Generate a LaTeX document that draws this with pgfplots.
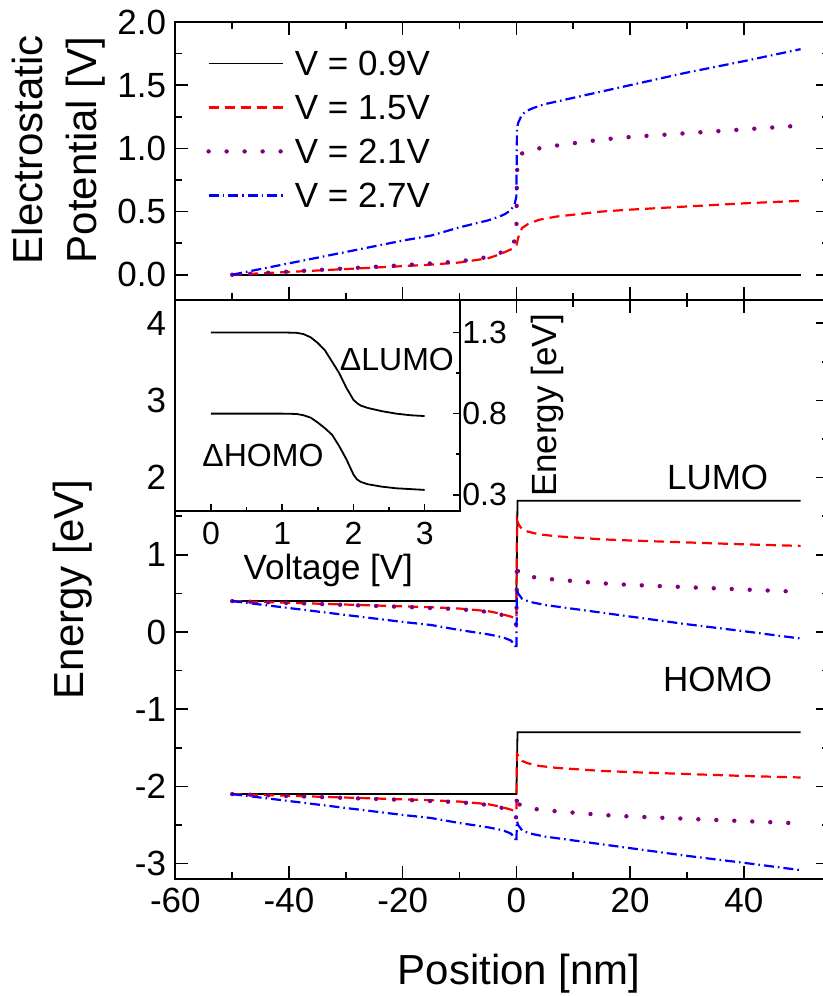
\documentclass[border=0pt]{standalone}
\usepackage{fontspec}
\setmainfont{Liberation Sans}
\usepackage{pgfplots}
\pgfplotsset{compat=1.18}
\definecolor{myred}{RGB}{255,0,0}
\definecolor{mypurple}{RGB}{128,0,128}
\definecolor{myblue}{RGB}{0,0,255}
\pgfplotsset{
  mainax/.style={scale only axis, width=326.85pt, xmin=-60, xmax=55,
    xtick={-60,-40,...,40}, minor x tick num=1,
    major tick length=6.5pt, minor tick length=3.5pt,
    axis line style={line width=0.9pt},
    every tick/.style={black, line width=0.8pt},
    tick label style={font=\fontsize{17.5}{20}\selectfont},
    /pgf/number format/assume math mode=true,
    yticklabel style={xshift=-1.1pt}, xticklabel style={yshift=-1.2pt}},
  s1/.style={black, line width=0.9pt},
  s2/.style={myred, line width=1.1pt, dash pattern=on 5pt off 3pt},
  s3/.style={mypurple, line width=2.2pt, line cap=round, dash pattern=on 0pt off 9pt},
  s4/.style={myblue, line width=1.1pt, dash pattern=on 5pt off 2pt on 0.8pt off 2pt},
}
\begin{document}
\begin{tikzpicture}
% ---------------- top panel ----------------
\begin{axis}[mainax, name=top, height=139pt, ymin=-0.2, ymax=2.0,
  ytick={0,0.5,...,2.0}, minor y tick num=1, xticklabels={},
  yticklabel style={/pgf/number format/fixed, /pgf/number format/fixed zerofill, /pgf/number format/precision=1},
  ylabel={Electrostatic\\Potential [V]},
  every axis y label/.style={at={(axis description cs:-0.179,0.54)}, rotate=90, anchor=center, align=center, font=\fontsize{21}{27}\selectfont},
  legend image code/.code={\draw[#1] (0pt,0pt) -- (37pt,0pt);},
  legend cell align=left,
  legend style={at={(0.047,0.8975)}, anchor=north west, draw=none, fill=none, inner sep=0pt,
    font=\fontsize{17.5}{21}\selectfont, row sep=9.5pt,
    nodes={inner sep=0pt, text height=12.5pt, text depth=0pt},
    /tikz/every odd column/.append style={column sep=5pt}},
]
\addplot[s1] coordinates {(-50,0) (50,0)};
\addlegendentry{V = 0.9V}
\addplot[s2] coordinates {(-50,0) (-40,0.022) (-30,0.045) (-20,0.068) (-15,0.08) (-10,0.097) (-5,0.13) (-3,0.16) (-2,0.18) (-1,0.2) (-0.3,0.22) (0,0.23) (0.1,0.25) (0.3,0.29) (0.6,0.33) (1,0.37) (2,0.4) (4,0.435) (7,0.46) (10,0.475) (15,0.5) (20,0.515) (30,0.54) (40,0.565) (50,0.585)};
\addlegendentry{V = 1.5V}
\addplot[s3] coordinates {(-50,0) (-40,0.025) (-30,0.05) (-20,0.075) (-15,0.09) (-10,0.105) (-5,0.14) (-3,0.17) (-2,0.19) (-1,0.22) (-0.3,0.27) (0,0.31) (0.1,0.8) (0.3,0.92) (1,0.96) (2,0.98) (3,0.99) (5,1.01) (10,1.04) (15,1.07) (20,1.09) (30,1.12) (40,1.15) (50,1.18)};
\addlegendentry{V = 2.1V}
\addplot[s4] coordinates {(-50,0) (-40,0.09) (-30,0.18) (-20,0.27) (-15,0.31) (-10,0.375) (-5,0.43) (-3,0.46) (-2,0.48) (-1,0.51) (-0.3,0.56) (0,0.62) (0.1,1.15) (0.3,1.2) (1,1.27) (2,1.3) (3,1.32) (5,1.35) (10,1.4) (15,1.45) (20,1.5) (30,1.6) (40,1.69) (50,1.785)};
\addlegendentry{V = 2.7V}
\end{axis}
% ---------------- bottom panel ----------------
\begin{axis}[mainax, name=bot, at={(top.south west)}, anchor=north west,
  height=289.5pt, ymin=-3.2, ymax=4.3, ytick={-3,...,4}, minor y tick num=1,
  xlabel={Position [nm]}, ylabel={Energy [eV]},
  every axis x label/.style={at={(axis description cs:0.526,-0.163)}, anchor=center, font=\fontsize{21}{26}\selectfont},
  every axis y label/.style={at={(axis description cs:-0.157,0.5)}, rotate=90, anchor=center, font=\fontsize{21}{26}\selectfont},
]
% LUMO
\addplot[s1] coordinates {(-50,0.4) (0,0.4) (0.2,1.7) (50,1.7)};
\addplot[s2] coordinates {(-50,0.4) (-40,0.378) (-30,0.355) (-20,0.332) (-15,0.32) (-10,0.303) (-5,0.27) (-3,0.24) (-2,0.22) (-1,0.2) (-0.3,0.18) (0,0.17) (0.1,1.45) (0.3,1.41) (0.6,1.37) (1,1.33) (2,1.3) (4,1.265) (7,1.24) (10,1.225) (15,1.2) (20,1.185) (30,1.16) (40,1.135) (50,1.115)};
\addplot[s3] coordinates {(-50,0.4) (-40,0.375) (-30,0.35) (-20,0.325) (-15,0.31) (-10,0.295) (-5,0.26) (-3,0.23) (-2,0.21) (-1,0.18) (-0.3,0.13) (0,0.09) (0.1,0.9) (0.3,0.78) (1,0.74) (2,0.72) (3,0.71) (5,0.69) (10,0.66) (15,0.63) (20,0.61) (30,0.58) (40,0.55) (50,0.52)};
\addplot[s4] coordinates {(-50,0.4) (-40,0.31) (-30,0.22) (-20,0.13) (-15,0.09) (-10,0.025) (-5,-0.03) (-3,-0.06) (-2,-0.08) (-1,-0.11) (-0.3,-0.16) (0,-0.22) (0.1,0.55) (0.3,0.5) (1,0.43) (2,0.4) (3,0.38) (5,0.35) (10,0.3) (15,0.25) (20,0.2) (30,0.1) (40,0.01) (50,-0.085)};
% HOMO
\addplot[s1] coordinates {(-50,-2.1) (0,-2.1) (0.2,-1.3) (50,-1.3)};
\addplot[s2] coordinates {(-50,-2.1) (-40,-2.122) (-30,-2.145) (-20,-2.168) (-15,-2.18) (-10,-2.197) (-5,-2.23) (-3,-2.26) (-2,-2.28) (-1,-2.3) (-0.3,-2.32) (0,-2.33) (0.1,-1.58) (0.3,-1.6) (0.6,-1.63) (1,-1.67) (2,-1.7) (4,-1.735) (7,-1.76) (10,-1.775) (15,-1.8) (20,-1.815) (30,-1.84) (40,-1.865) (50,-1.885)};
\addplot[s3] coordinates {(-50,-2.1) (-40,-2.125) (-30,-2.15) (-20,-2.175) (-15,-2.19) (-10,-2.205) (-5,-2.24) (-3,-2.27) (-2,-2.29) (-1,-2.32) (-0.3,-2.37) (0,-2.41) (0.1,-2.1) (0.3,-2.22) (1,-2.26) (2,-2.28) (3,-2.29) (5,-2.31) (10,-2.34) (15,-2.37) (20,-2.39) (30,-2.42) (40,-2.45) (50,-2.48)};
\addplot[s4] coordinates {(-50,-2.1) (-40,-2.19) (-30,-2.28) (-20,-2.37) (-15,-2.41) (-10,-2.475) (-5,-2.53) (-3,-2.56) (-2,-2.58) (-1,-2.61) (-0.3,-2.66) (0,-2.72) (0.1,-2.45) (0.3,-2.5) (1,-2.57) (2,-2.6) (3,-2.62) (5,-2.65) (10,-2.7) (15,-2.75) (20,-2.8) (30,-2.9) (40,-2.99) (50,-3.085)};
\node[font=\fontsize{17.5}{21}\selectfont] at (axis cs:35.4,2.0) {LUMO};
\node[font=\fontsize{17.5}{21}\selectfont] at (axis cs:35.4,-0.62) {HOMO};
\end{axis}
% ---------------- inset ----------------
\begin{axis}[name=ins, at={(bot.north west)}, anchor=north west, scale only axis,
  width=142.5pt, height=105.5pt, xmin=-0.5, xmax=3.5, ymin=0.2, ymax=1.5,
  axis background/.style={fill=white},
  axis line style={line width=0.9pt},
  every tick/.style={black, line width=0.8pt},
  major tick length=3.5pt, minor tick length=2pt,
  xtick={0,1,2,3}, minor x tick num=1, xtick pos=bottom,
  ytick={0.3,0.8,1.3}, minor y tick num=1, ytick pos=right, yticklabel pos=right,
  tick label style={font=\fontsize{16}{19}\selectfont},
  /pgf/number format/assume math mode=true,
  yticklabel style={/pgf/number format/fixed, /pgf/number format/fixed zerofill, /pgf/number format/precision=1, xshift=-2.5pt},
  xticklabel style={yshift=-2pt},
  xlabel={Voltage [V]}, ylabel={Energy [eV]},
  every axis x label/.style={at={(axis description cs:0.537,-0.28)}, anchor=center, font=\fontsize{17.5}{21}\selectfont},
  every axis y label/.style={at={(axis description cs:1.307,0.5)}, rotate=90, anchor=center, font=\fontsize{17.5}{21}\selectfont},
]
\addplot[black, line width=0.9pt] coordinates {(0,1.30) (0.5,1.30) (1.0,1.30) (1.2,1.298) (1.3,1.29) (1.4,1.27) (1.5,1.235) (1.6,1.19) (1.7,1.12) (1.8,1.05) (1.9,0.96) (2.0,0.885) (2.05,0.865) (2.1,0.85) (2.2,0.835) (2.4,0.815) (2.6,0.80) (2.8,0.79) (3.0,0.785)};
\addplot[black, line width=0.9pt] coordinates {(0,0.80) (0.5,0.80) (1.0,0.80) (1.2,0.798) (1.3,0.79) (1.4,0.775) (1.5,0.745) (1.6,0.71) (1.7,0.67) (1.8,0.6) (1.9,0.52) (2.0,0.425) (2.05,0.395) (2.1,0.38) (2.2,0.365) (2.4,0.35) (2.6,0.34) (2.8,0.335) (3.0,0.33)};
\node[font=\fontsize{16}{19}\selectfont] at (axis cs:2.61,1.136) {ΔLUMO};
\node[font=\fontsize{16}{19}\selectfont] at (axis cs:0.73,0.54) {ΔHOMO};
\end{axis}
\pgfresetboundingbox
\path[use as bounding box] ([xshift=-87.65pt,yshift=11pt]top.north west) rectangle ([xshift=323.35pt,yshift=-58.5pt]bot.south west);
\end{tikzpicture}
\end{document}
